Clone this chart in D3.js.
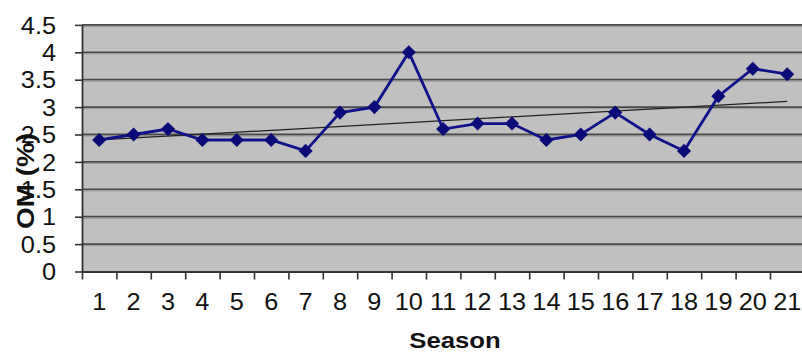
<!DOCTYPE html>
<html>
<head>
<meta charset="utf-8">
<script src="https://cdn.jsdelivr.net/npm/d3@7"></script>
<style>
  html, body { margin: 0; padding: 0; background: #fff; }
  svg { display: block; }
  text { font-family: "Liberation Sans", Arial, sans-serif; fill: #111; }
</style>
</head>
<body>
<svg id="chart" width="802" height="353"></svg>
<script>
// Organic matter (%) measured each season
const seasons = d3.range(1, 22).map(String);
const omValues = [2.4, 2.5, 2.6, 2.4, 2.4, 2.4, 2.2, 2.9, 3.0, 4.0, 2.6,
                  2.7, 2.7, 2.4, 2.5, 2.9, 2.5, 2.2, 3.2, 3.7, 3.6];
const yTicks = [0, 0.5, 1, 1.5, 2, 2.5, 3, 3.5, 4, 4.5];
const yTickLabels = ["0", "0.5", "1", "1.5", "2", "2.5", "3", "3.5", "4", "4.5"];
const xTitle = "Season";
const yTitle = "OM (%)";

const svg = d3.select("#chart");
const plotLeft = 82, plotRight = 804.4, plotTop = 24.9, plotBottom = 271.5;
const textStretch = 1.1;

const x = d3.scaleBand().domain(seasons).range([plotLeft, plotRight]).padding(0);
const xEdge = d3.scaleLinear().domain([0, seasons.length]).range([plotLeft, plotRight]);
const y = d3.scaleLinear().domain([0, 4.5]).range([plotBottom, plotTop]);
const cx = d => x(d) + x.bandwidth() / 2;

// plot area
svg.append("rect")
  .attr("x", plotLeft).attr("y", plotTop)
  .attr("width", plotRight - plotLeft).attr("height", plotBottom - plotTop)
  .attr("fill", "#c0c0c0");

// horizontal gridlines
const grid = svg.append("g");
grid.selectAll("line.g")
  .data(yTicks.filter(v => v > 0))
  .join("line")
  .attr("class", "g")
  .attr("x1", plotLeft).attr("x2", plotRight)
  .attr("y1", d => y(d)).attr("y2", d => y(d))
  .attr("stroke", "#4a4a4a").attr("stroke-width", 1.8);
grid.selectAll("line.h")
  .data(yTicks.filter(v => v > 0))
  .join("line")
  .attr("class", "h")
  .attr("x1", plotLeft).attr("x2", plotRight)
  .attr("y1", d => y(d) + 1.6).attr("y2", d => y(d) + 1.6)
  .attr("stroke", "#9a9a9a").attr("stroke-width", 1);

// y axis
const yAxis = svg.append("g")
  .attr("transform", `translate(${plotLeft},0)`)
  .call(d3.axisLeft(y).tickValues(yTicks)
    .tickFormat((d, i) => yTickLabels[i])
    .tickSize(7).tickSizeOuter(0).tickPadding(19));
yAxis.select(".domain").attr("stroke", "#333").attr("stroke-width", 1.8);
yAxis.selectAll(".tick line").attr("stroke", "#333").attr("stroke-width", 1.6);
yAxis.selectAll(".tick text")
  .style("font-size", "23px").attr("fill", "#111")
  .attr("dy", "0.36em")
  .attr("transform", function () {
    const tx = +d3.select(this).attr("x");
    d3.select(this).attr("x", 0);
    return `translate(${tx},0) scale(${textStretch},1)`;
  });

// x axis: boundary tick marks
const xTicksG = svg.append("g")
  .attr("transform", `translate(0,${plotBottom})`)
  .call(d3.axisBottom(xEdge).tickValues(d3.range(0, seasons.length + 1))
    .tickFormat("").tickSize(8).tickSizeOuter(0));
xTicksG.select(".domain").attr("stroke", "#333").attr("stroke-width", 1.8);
xTicksG.selectAll(".tick line").attr("stroke", "#333").attr("stroke-width", 1.6);

// x axis: category labels
const xLabels = svg.append("g")
  .attr("transform", `translate(0,${plotBottom})`)
  .call(d3.axisBottom(x).tickSize(0).tickPadding(22));
xLabels.select(".domain").remove();
xLabels.selectAll(".tick text")
  .style("font-size", "23px").attr("fill", "#111")
  .attr("transform", function () {
    const ty = +d3.select(this).attr("y");
    d3.select(this).attr("y", 0);
    return `translate(0,${ty}) scale(${textStretch},1)`;
  });

// linear trend line (least squares)
const xs = seasons.map((s, i) => i + 1);
const mx = d3.mean(xs), my = d3.mean(omValues);
const slope = d3.sum(xs, (v, i) => (v - mx) * (omValues[i] - my)) /
              d3.sum(xs, v => (v - mx) * (v - mx));
const icpt = my - slope * mx;
svg.append("line")
  .attr("x1", cx(seasons[0])).attr("y1", y(icpt + slope * xs[0]))
  .attr("x2", cx(seasons[seasons.length - 1]))
  .attr("y2", y(icpt + slope * xs[xs.length - 1]))
  .attr("stroke", "#222").attr("stroke-width", 1.3);

// data line
svg.append("path")
  .datum(omValues)
  .attr("fill", "none")
  .attr("stroke", "#10108a")
  .attr("stroke-width", 2.8)
  .attr("d", d3.line().x((d, i) => cx(seasons[i])).y(d => y(d)));

// diamond markers
const diamond = d3.symbol(d3.symbolSquare, 100)();
svg.append("g").selectAll("path")
  .data(omValues)
  .join("path")
  .attr("d", diamond)
  .attr("transform", (d, i) => `translate(${cx(seasons[i])},${y(d)}) rotate(45)`)
  .attr("fill", "#0a0a78");

// axis titles
svg.append("text")
  .attr("transform", `translate(455,348) scale(1.17,1)`)
  .attr("text-anchor", "middle")
  .style("font-size", "22px").style("font-weight", "bold")
  .text(xTitle);

svg.append("text")
  .attr("transform", `translate(34,181) rotate(-90)`)
  .attr("text-anchor", "middle")
  .style("font-size", "24px").style("font-weight", "bold")
  .attr("textLength", 96).attr("lengthAdjust", "spacingAndGlyphs")
  .text(yTitle);
</script>
</body>
</html>
